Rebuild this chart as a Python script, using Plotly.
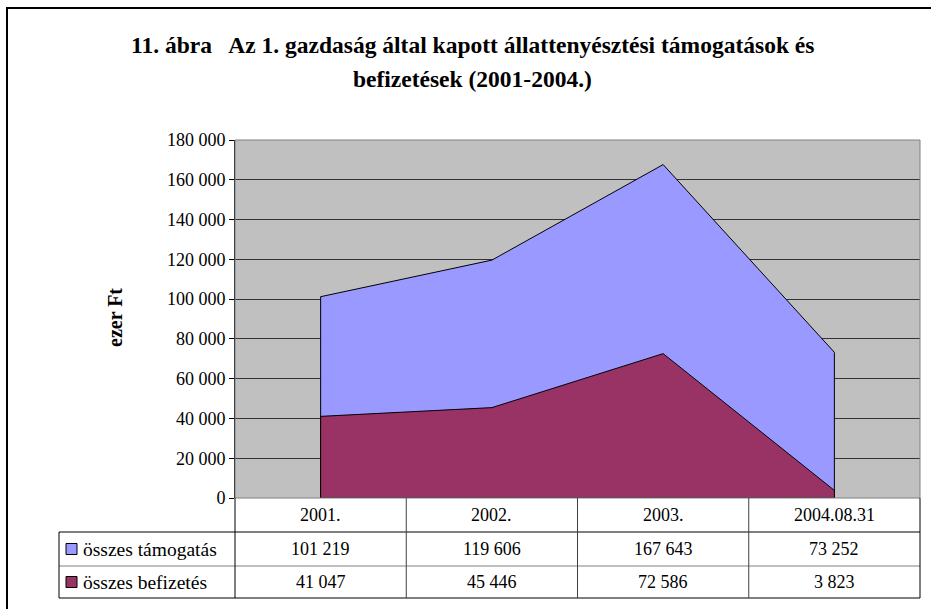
import plotly.graph_objects as go

# ---- data ----
categories = ["2001.", "2002.", "2003.", "2004.08.31"]
series_names = ["összes támogatás", "összes befizetés"]
tamogatas = [101219, 119606, 167643, 73252]
befizetes = [41047, 45446, 72586, 3823]
y_ticks = [0, 20000, 40000, 60000, 80000, 100000, 120000, 140000, 160000, 180000]

colors = ["#9999FF", "#993366"]

W, H = 931, 609
PL, PR, PT, PB = 235, 920, 140, 498  # plot area in px
FONT = "Liberation Serif, Times New Roman, serif"
FS = 18

n = len(categories)
idx = list(range(n))


def X(px):
    return (px - PL) / (PR - PL)


def Y(py):
    return (PB - py) / (PB - PT)


def fmt(v):
    return f"{v:,}".replace(",", " ")


fig = go.Figure()
for name, vals, col in [(series_names[0], tamogatas, colors[0]),
                        (series_names[1], befizetes, colors[1])]:
    xs = [idx[0]] + idx + [idx[-1], idx[0]]
    ys = [0] + vals + [0, 0]
    fig.add_trace(go.Scatter(x=xs, y=ys, mode="lines", fill="toself",
                             fillcolor=col, line=dict(color="black", width=1),
                             name=name, hoverinfo="skip", showlegend=False))

shapes = []
# outer frame
shapes.append(dict(type="rect", xref="paper", yref="paper",
                   x0=X(7), x1=X(945), y0=Y(625), y1=Y(8),
                   line=dict(color="black", width=2), layer="below"))
# plot area border
shapes.append(dict(type="rect", xref="paper", yref="paper", x0=0, x1=1, y0=0, y1=1,
                   line=dict(color="#808080", width=1)))

# data table lines
TL = 59
row_centers = [515, 549, 582]


def line(x0, x1, y0, y1, color="black"):
    shapes.append(dict(type="line", xref="paper", yref="paper",
                       x0=x0, x1=x1, y0=y0, y1=y1,
                       line=dict(color=color, width=1)))


line(X(TL), 1, Y(532), Y(532))
line(X(TL), 1, Y(566), Y(566), "#808080")
line(X(TL), 1, Y(598), Y(598))
line(X(TL), X(TL), Y(532), Y(598))
line(0, 0, Y(498), Y(598))
for b in range(1, n):
    line(b / n, b / n, Y(498), Y(598), "#404040")
line(1, 1, Y(498), Y(598))

# legend keys in the table
for i, col in enumerate(colors):
    cy = row_centers[i + 1]
    shapes.append(dict(type="rect", xref="paper", yref="paper",
                       x0=X(66), x1=X(77), y0=Y(cy + 5.5), y1=Y(cy - 5.5),
                       fillcolor=col, line=dict(color="black", width=1)))

annotations = []
title_font = dict(family=FONT, size=23.5, color="black", weight="bold")
annotations.append(dict(text="11. ábra   Az 1. gazdaság által kapott állattenyésztési támogatások és",
                        xref="paper", yref="paper", x=X(472), y=Y(45),
                        showarrow=False, xanchor="center", yanchor="middle", font=title_font))
annotations.append(dict(text="befizetések (2001-2004.)",
                        xref="paper", yref="paper", x=X(472), y=Y(79),
                        showarrow=False, xanchor="center", yanchor="middle", font=title_font))
annotations.append(dict(text="ezer Ft", xref="paper", yref="paper",
                        x=X(115), y=Y(318), textangle=-90,
                        showarrow=False, xanchor="center", yanchor="middle",
                        font=dict(family=FONT, size=20, color="black", weight="bold")))
cell_font = dict(family=FONT, size=FS, color="black")
for i, c in enumerate(categories):
    annotations.append(dict(text=c, xref="paper", yref="paper", x=(i + 0.5) / n,
                            y=Y(row_centers[0]), showarrow=False,
                            xanchor="center", yanchor="middle", font=cell_font))
for r, (name, vals) in enumerate([(series_names[0], tamogatas), (series_names[1], befizetes)]):
    cy = row_centers[r + 1]
    annotations.append(dict(text=name, xref="paper", yref="paper", x=X(81), y=Y(cy),
                            showarrow=False, xanchor="left", yanchor="middle",
                            font=dict(family=FONT, size=19.5, color="black")))
    for i, v in enumerate(vals):
        annotations.append(dict(text=fmt(v), xref="paper", yref="paper", x=(i + 0.5) / n,
                                y=Y(cy), showarrow=False,
                                xanchor="center", yanchor="middle", font=cell_font))

fig.update_layout(
    width=W, height=H,
    margin=dict(l=PL, r=W - PR, t=PT, b=H - PB, pad=0),
    paper_bgcolor="white", plot_bgcolor="#C0C0C0",
    font=dict(family=FONT, size=FS, color="black"),
    showlegend=False,
    xaxis=dict(range=[-0.5, n - 0.5], showticklabels=False, showgrid=False,
               zeroline=False, showline=False, ticks="", fixedrange=True),
    yaxis=dict(range=[0, 180000], tickvals=y_ticks,
               ticktext=[fmt(t) for t in y_ticks],
               showgrid=True, gridcolor="#333333", gridwidth=1,
               zeroline=False, showline=True, linecolor="black", linewidth=1,
               ticks="outside", ticklen=5, tickcolor="black",
               tickfont=dict(family=FONT, size=FS, color="black"), fixedrange=True),
    shapes=shapes, annotations=annotations,
)

fig.write_html("out.html", config={"displayModeBar": False},
               post_script="document.body.style.margin='0';document.body.style.overflow='hidden';")
